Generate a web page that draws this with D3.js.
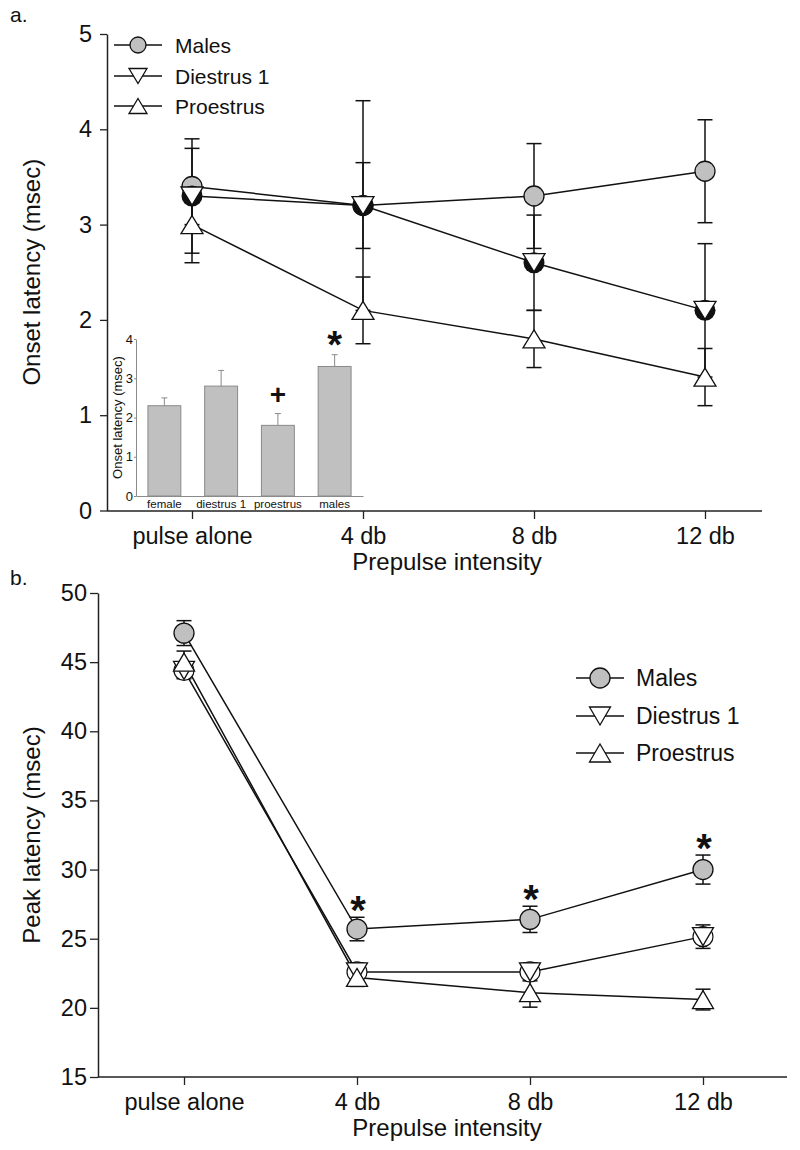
<!DOCTYPE html>
<html><head><meta charset="utf-8">
<script src="https://cdn.jsdelivr.net/npm/d3@7"></script>
<style>
html,body{margin:0;padding:0;background:#fff;}
svg text{font-family:"Liberation Sans",Arial,sans-serif;fill:#111;}
</style></head>
<body>
<svg id="chart" width="800" height="1150"></svg>
<script>
// ---------- data ----------
const categories = ["pulse alone", "4 db", "8 db", "12 db"];
const seriesNames = ["Males", "Diestrus 1", "Proestrus"];

// panel a: onset latency
const onsetMales = [3.4, 3.2, 3.3, 3.56];
const onsetMalesErr = [0.4, 0.45, 0.55, 0.54];
const onsetDiestrus = [3.3, 3.2, 2.6, 2.1];
const onsetDiestrusErr = [0.6, 1.1, 0.5, 0.7];
const onsetProestrus = [3.0, 2.1, 1.8, 1.4];
const onsetProestrusErr = [0.4, 0.35, 0.3, 0.3];
const onsetTicks = [0, 1, 2, 3, 4, 5];

// inset bar chart
const insetCategories = ["female", "diestrus 1", "proestrus", "males"];
const insetValues = [2.3, 2.8, 1.8, 3.3];
const insetErr = [0.2, 0.4, 0.3, 0.3];
const insetMarks = ["", "", "+", "*"];
const insetTicks = [0, 1, 2, 3, 4];

// panel b: peak latency
const peakMales = [47.1, 25.7, 26.4, 30.0];
const peakMalesErr = [0.9, 0.85, 0.95, 1.05];
const peakDiestrus = [44.4, 22.6, 22.6, 25.15];
const peakDiestrusErr = [0.6, 0.65, 0.65, 0.85];
const peakProestrus = [45.0, 22.2, 21.1, 20.6];
const peakProestrusErr = [0.8, 0.65, 1.05, 0.75];
const peakStars = ["", "*", "*", "*"];
const peakTicks = [15, 20, 25, 30, 35, 40, 45, 50];

// ---------- helpers ----------
const svg = d3.select("#chart");

function triPath(cx, cy, w, h, down) {
  if (down) return `M${cx - w/2},${cy - h/2}L${cx + w/2},${cy - h/2}L${cx},${cy + h/2}Z`;
  return `M${cx},${cy - h/2}L${cx + w/2},${cy + h/2}L${cx - w/2},${cy + h/2}Z`;
}

function drawMarker(g, type, cx, cy, s, backing) {
  if (type === "circle") {
    g.append("circle").attr("cx", cx).attr("cy", cy).attr("r", s.r)
      .attr("fill", "#c0c0c0").attr("stroke", "#111").attr("stroke-width", 1.3);
  } else {
    if (type === "down" && backing === "black") {
      g.append("circle").attr("cx", cx).attr("cy", cy).attr("r", s.r + 0.5).attr("fill", "#111");
    } else if (type === "down" && backing === "white") {
      g.append("circle").attr("cx", cx).attr("cy", cy).attr("r", s.r)
        .attr("fill", "#fff").attr("stroke", "#111").attr("stroke-width", 1.2);
    }
    g.append("path").attr("d", triPath(cx, cy, s.tw, s.th, type === "down"))
      .attr("fill", "#fff").attr("stroke", "#111").attr("stroke-width", 1.3);
  }
}

function panel(cfg) {
  const g = svg.append("g");
  const x = d3.scalePoint().domain(categories).range(cfg.xRange);
  const y = d3.scaleLinear().domain(cfg.yDomain).range(cfg.yRange);

  // axes
  const yAxis = d3.axisLeft(y).tickValues(cfg.ticks).tickFormat(d3.format("d"))
    .tickSize(cfg.tickLen).tickPadding(cfg.yPad).tickSizeOuter(0);
  const ya = g.append("g").attr("transform", `translate(${cfg.axisX},0)`).call(yAxis);
  ya.select(".domain").attr("stroke", "#222").attr("stroke-width", 1.5);
  ya.selectAll(".tick line").attr("stroke", "#222").attr("stroke-width", 1.3);
  ya.selectAll(".tick text").style("font-size", "23.5px").attr("fill", "#111");

  const xAxis = d3.axisBottom(x).tickSize(8).tickPadding(8).tickSizeOuter(0);
  const xa = g.append("g").attr("transform", `translate(0,${cfg.axisY})`).call(xAxis);
  xa.select(".domain").remove();
  xa.append("line").attr("x1", cfg.axisX).attr("x2", cfg.axisEnd).attr("y1", 0).attr("y2", 0)
    .attr("stroke", "#222").attr("stroke-width", 1.5);
  xa.selectAll(".tick line").attr("stroke", "#222").attr("stroke-width", 1.3);
  xa.selectAll(".tick text").style("font-size", "23.5px").attr("fill", "#111").attr("dy", "0.71em");

  g.append("text").attr("x", 447).attr("y", cfg.axisY + 59).attr("text-anchor", "middle")
    .style("font-size", "24px").text("Prepulse intensity");
  g.append("text").attr("transform", `translate(${cfg.yLabelX},${(cfg.yRange[0] + cfg.yRange[1]) / 2}) rotate(-90)`)
    .attr("text-anchor", "middle").style("font-size", "24px").text(cfg.yLabel);
  g.append("text").attr("x", 10).attr("y", cfg.letterY).style("font-size", "21px").text(cfg.letter);

  cfg.extra && cfg.extra(g);

  const series = cfg.series;
  // lines
  const line = d3.line().x((d, i) => x(categories[i])).y(d => y(d));
  series.forEach(s => {
    g.append("path").datum(s.values).attr("d", line).attr("fill", "none")
      .attr("stroke", "#111").attr("stroke-width", 1.5);
  });
  // error bars
  series.forEach(s => {
    s.values.forEach((v, i) => {
      const cx = x(categories[i]);
      const hi = y(v + s.err[i]), lo = y(v - s.err[i]);
      g.append("line").attr("x1", cx).attr("x2", cx).attr("y1", hi).attr("y2", lo)
        .attr("stroke", "#111").attr("stroke-width", 1.5);
      [hi, lo].forEach(yy => g.append("line").attr("x1", cx - cfg.cap).attr("x2", cx + cfg.cap)
        .attr("y1", yy).attr("y2", yy).attr("stroke", "#111").attr("stroke-width", 1.5));
    });
  });
  // markers
  cfg.drawOrder.forEach(k => {
    const s = series[k];
    s.values.forEach((v, i) => drawMarker(g, s.type, x(categories[i]), y(v), cfg.marker, cfg.backing));
  });

  // legend
  const L = cfg.legend;
  series.forEach((s, k) => {
    const ly = L.y[k];
    g.append("line").attr("x1", L.cx - L.half).attr("x2", L.cx + L.half).attr("y1", ly).attr("y2", ly)
      .attr("stroke", "#111").attr("stroke-width", 1.4);
    drawMarker(g, s.type, L.cx, ly, L.marker, null);
    g.append("text").attr("x", L.textX).attr("y", ly).attr("dy", "0.36em")
      .style("font-size", L.font + "px").text(seriesNames[k]);
  });
  return {g, x, y};
}

// ---------- panel a ----------
const pa = panel({
  letter: "a.", letterY: 22,
  xRange: [192, 705], axisX: 107, axisY: 511, axisEnd: 762,
  yDomain: [0, 5], yRange: [510.5, 34], ticks: onsetTicks, tickLen: 7, yPad: 8,
  yLabel: "Onset latency (msec)", yLabelX: 40,
  cap: 7.5, backing: "black",
  marker: {r: 10, tw: 22, th: 18},
  series: [
    {values: onsetMales, err: onsetMalesErr, type: "circle"},
    {values: onsetDiestrus, err: onsetDiestrusErr, type: "down"},
    {values: onsetProestrus, err: onsetProestrusErr, type: "up"}
  ],
  drawOrder: [0, 1, 2],
  legend: {cx: 138, half: 24, textX: 175, y: [45, 76, 106], font: 21, marker: {r: 8, tw: 18, th: 15}},
  extra: function(g) {
    // inset bar chart
    const ix = d3.scaleBand().domain(insetCategories).range([136, 363]).paddingInner(0.42).paddingOuter(0.21);
    const iy = d3.scaleLinear().domain([0, 4]).range([496, 339]);
    const ig = g.append("g");
    ig.selectAll("rect.bar").data(insetValues).join("rect")
      .attr("x", (d, i) => ix(insetCategories[i])).attr("width", ix.bandwidth())
      .attr("y", d => iy(d)).attr("height", d => iy(0) - iy(d))
      .attr("fill", "#c0c0c0").attr("stroke", "#8a8a8a").attr("stroke-width", 1);
    insetValues.forEach((v, i) => {
      const cx = ix(insetCategories[i]) + ix.bandwidth() / 2;
      ig.append("line").attr("x1", cx).attr("x2", cx).attr("y1", iy(v)).attr("y2", iy(v + insetErr[i]))
        .attr("stroke", "#8a8a8a").attr("stroke-width", 1);
      ig.append("line").attr("x1", cx - 3).attr("x2", cx + 3).attr("y1", iy(v + insetErr[i])).attr("y2", iy(v + insetErr[i]))
        .attr("stroke", "#8a8a8a").attr("stroke-width", 1);
      if (insetMarks[i]) {
        const star = insetMarks[i] === "*";
        const fs = star ? 38 : 28;
        const cy = iy(v + insetErr[i]) - (star ? 18 : 20);
        ig.append("text").attr("x", cx).attr("y", cy + (star ? 0.57 * fs : 0.36 * fs))
          .attr("text-anchor", "middle").style("font-size", fs + "px").style("font-weight", "bold")
          .text(insetMarks[i]);
      }
    });
    const iya = ig.append("g").attr("transform", "translate(136,0)")
      .call(d3.axisLeft(iy).tickValues(insetTicks).tickFormat(d3.format("d")).tickSize(2).tickPadding(1).tickSizeOuter(0));
    iya.select(".domain").attr("stroke", "#8a8a8a");
    iya.selectAll(".tick line").attr("stroke", "#8a8a8a");
    iya.selectAll(".tick text").style("font-size", "13px").attr("fill", "#333");
    const ixa = ig.append("g").attr("transform", "translate(0,496)")
      .call(d3.axisBottom(ix).tickSize(0).tickPadding(4).tickSizeOuter(0));
    ixa.select(".domain").attr("stroke", "#8a8a8a");
    ixa.selectAll(".tick text").style("font-size", "11.5px").attr("fill", "#333");
    ig.append("text").attr("transform", `translate(122,${(496 + 339) / 2}) rotate(-90)`)
      .attr("text-anchor", "middle").style("font-size", "13px").attr("fill", "#333")
      .text("Onset latency (msec)");
  }
});

// ---------- panel b ----------
const pb = panel({
  letter: "b.", letterY: 585,
  xRange: [184, 703], axisX: 98, axisY: 1077, axisEnd: 787,
  yDomain: [15, 50], yRange: [1077, 593], ticks: peakTicks, tickLen: 8, yPad: 3,
  yLabel: "Peak latency (msec)", yLabelX: 40,
  cap: 7.5, backing: "white",
  marker: {r: 10, tw: 21, th: 18},
  series: [
    {values: peakMales, err: peakMalesErr, type: "circle"},
    {values: peakDiestrus, err: peakDiestrusErr, type: "down"},
    {values: peakProestrus, err: peakProestrusErr, type: "up"}
  ],
  drawOrder: [0, 1, 2],
  legend: {cx: 600, half: 24, textX: 636, y: [678, 716, 753], font: 23, marker: {r: 10, tw: 21, th: 18}},
  extra: null
});
// significance stars in panel b
peakStars.forEach((s, i) => {
  if (!s) return;
  const cx = pb.x(categories[i]);
  const top = pb.y(peakMales[i] + peakMalesErr[i]);
  const fs = 40;
  pb.g.append("text").attr("x", cx + 1).attr("y", top - 16 + 0.57 * fs)
    .attr("text-anchor", "middle").style("font-size", fs + "px").style("font-weight", "bold").text(s);
});
</script>
</body></html>
